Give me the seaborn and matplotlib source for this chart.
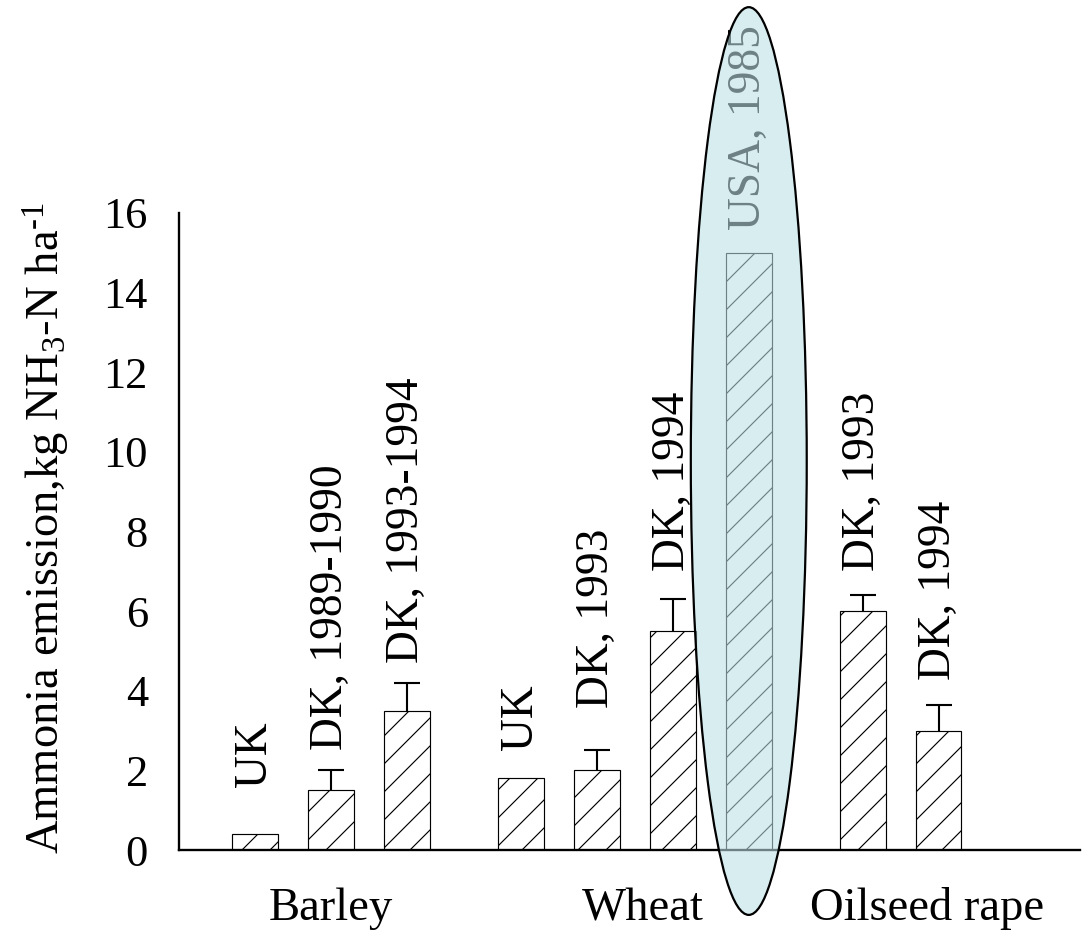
import numpy as np
import pandas as pd
import matplotlib
matplotlib.use("Agg")
import matplotlib.pyplot as plt
import seaborn as sns
from matplotlib.patches import Ellipse

# ---------------- data ----------------
crops = ["Barley", "Wheat", "Oilseed rape"]
bars_per_crop = [3, 4, 2]
bar_labels = ["UK", "DK, 1989-1990", "DK, 1993-1994",
              "UK", "DK, 1993", "DK, 1994", "USA, 1985",
              "DK, 1993", "DK, 1994"]
emission = [0.4, 1.5, 3.5, 1.8, 2.0, 5.5, 15.0, 6.0, 3.0]
error_up = [0.0, 0.5, 0.7, 0.0, 0.5, 0.8, 0.0, 0.4, 0.65]
yticks = [0, 2, 4, 6, 8, 10, 12, 14, 16]
highlight = "USA, 1985"

# ---------------- layout / style ----------------
label_pad = [1.18, 0.5, 0.5, 0.7, 1.07, 0.7, 0.58, 0.6, 0.62]
crop_label_x = [2.0, 6.1, 9.85]
DPI = 168
sns.set_style("white")
plt.rcParams["font.family"] = ["Liberation Serif", "DejaVu Serif"]
plt.rcParams["mathtext.fontset"] = "custom"
plt.rcParams["mathtext.rm"] = "Liberation Serif"
plt.rcParams["mathtext.it"] = "Liberation Serif:italic"
plt.rcParams["hatch.linewidth"] = 0.5
plt.rcParams["hatch.color"] = "black"
for k in ["text.color", "axes.labelcolor", "xtick.color", "ytick.color",
          "axes.edgecolor"]:
    plt.rcParams[k] = "black"

# bar positions: unit spacing within crop, extra gap between crops
pos = []
x = 1.0
for n in bars_per_crop:
    for i in range(n):
        pos.append(x)
        x += 1.0
    x += 0.5

df = pd.DataFrame({"pos": pos, "emission": emission, "label": bar_labels,
                   "err": error_up})

fig = plt.figure(figsize=(1082 / DPI, 934 / DPI), dpi=DPI)
ax = fig.add_axes([179 / 1082, 84 / 934, 901 / 1082, 637 / 934])

sns.barplot(data=df, x="pos", y="emission", native_scale=True, width=0.6,
            color="white", edgecolor="black", linewidth=0.5, hatch="//",
            errorbar=None, ax=ax, zorder=2)
for p in ax.patches:
    p.set_facecolor("white")
    p.set_edgecolor("black")

has_err = df["err"] > 0
ex = df.loc[has_err, "pos"].to_numpy()
ey = df.loc[has_err, "emission"].to_numpy()
ee = df.loc[has_err, "err"].to_numpy()
_, caps, _ = ax.errorbar(ex, ey, yerr=[np.zeros(len(ee)), ee],
                         fmt="none", ecolor="black", elinewidth=0.9,
                         capsize=5.4, capthick=0.9, zorder=1.5)
for c in caps:
    if np.allclose(np.asarray(c.get_ydata(), dtype=float), ey):
        c.set_visible(False)

for xp, v, e, lab, pad in zip(df["pos"], df["emission"], df["err"],
                              df["label"], label_pad):
    ax.text(xp, v + e + pad, lab, rotation=90, ha="center", va="bottom",
            fontsize=19.5, color="black", zorder=3)

ax.set_xlim(0, 11.86)
ax.set_ylim(0, 16)
ax.set_yticks(yticks)
ax.set_yticklabels([str(t) for t in yticks], fontsize=19, color="black")
ax.set_xticks([0, 2, 4, 6, 8, 10])
ax.set_xticklabels([])
ax.set_xlabel("")
ax.set_ylabel("")
for s in ["top", "right"]:
    ax.spines[s].set_visible(False)
for s in ["left", "bottom"]:
    ax.spines[s].set_linewidth(1.0)
    ax.spines[s].set_color("black")
ax.tick_params(axis="both", direction="out", length=4.3, width=0.9,
               color="black", labelcolor="black", pad=9)

for cx, c in zip(crop_label_x, crops):
    ax.text(cx, -1.76, c, ha="center", va="baseline", fontsize=20,
            color="black", clip_on=False)

fig.text(47 / 1082, 1 - 528 / 934,
         r"Ammonia emission,kg NH$_3$-N ha$^{\text{-1}}$",
         rotation=90, ha="center", va="center", fontsize=20, color="black")

# highlight ellipse around the USA bar
hx = df.loc[df["label"] == highlight, "pos"].iloc[0]
ell_fill = Ellipse((hx, 9.77), 1.526, 22.8, facecolor=(0.74, 0.88, 0.90),
                   alpha=0.58, edgecolor="none", zorder=4, clip_on=False)
ell_edge = Ellipse((hx, 9.77), 1.526, 22.8, facecolor="none",
                   edgecolor="black", linewidth=0.95, zorder=5, clip_on=False)
ax.add_patch(ell_fill)
ax.add_patch(ell_edge)

fig.savefig("out.png", dpi=DPI, facecolor="white")
